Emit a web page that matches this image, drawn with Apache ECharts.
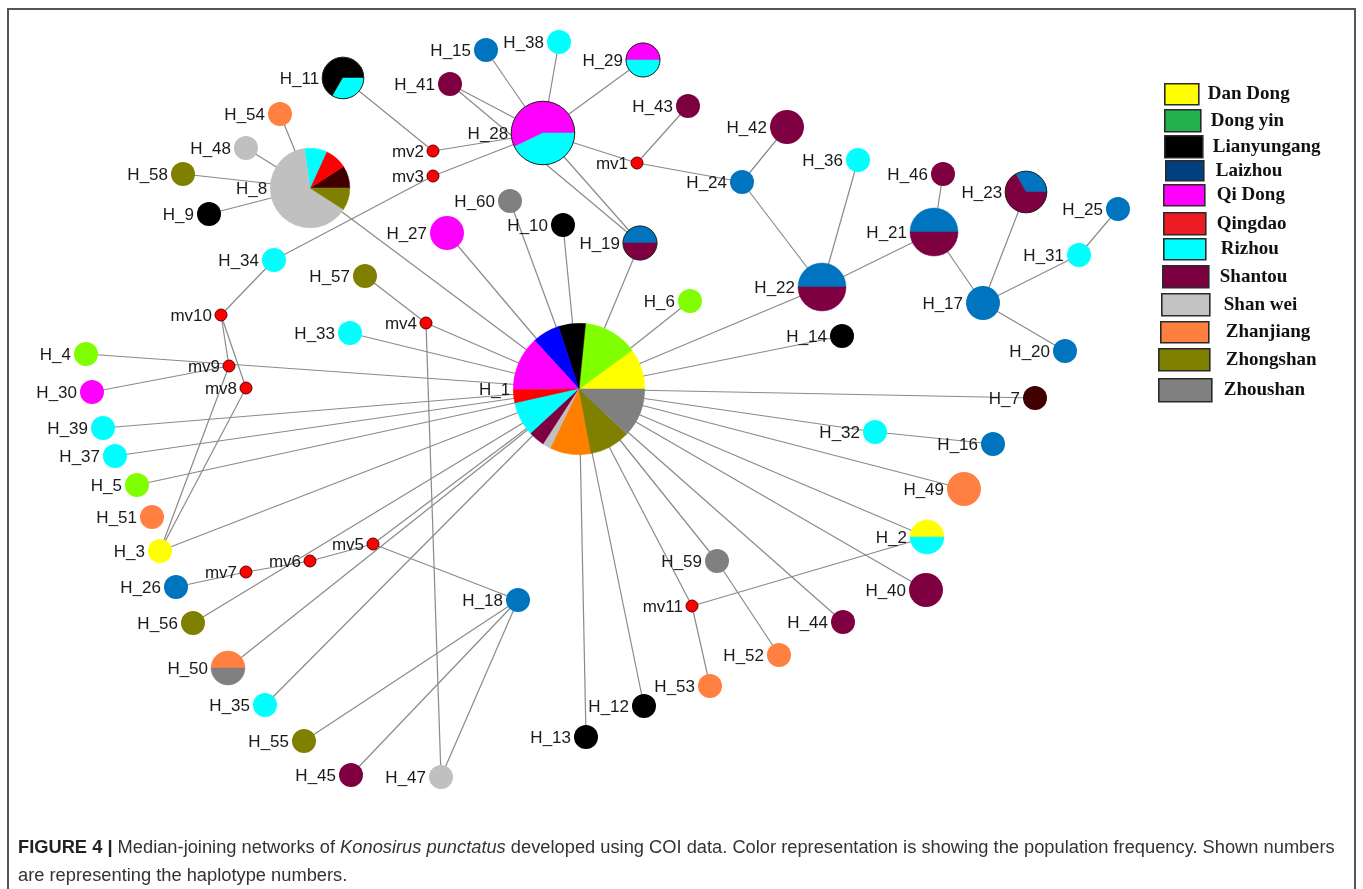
<!DOCTYPE html>
<html>
<head>
<meta charset="utf-8">
<script src="https://cdn.jsdelivr.net/npm/echarts@6/dist/echarts.min.js"></script>
<style>
  html, body { margin: 0; padding: 0; background: #fff; }
  #chart { width: 1363px; height: 889px; }
</style>
</head>
<body>
<div id="chart"></div>
<script>
// Populations (legend order) and their legend swatch colours
const populations = ['Dan Dong', 'Dong yin', 'Lianyungang', 'Laizhou', 'Qi Dong', 'Qingdao',
  'Rizhou', 'Shantou', 'Shan wei', 'Zhanjiang', 'Zhongshan', 'Zhoushan'];
const legendColors = ['#ffff00', '#22b14c', '#000000', '#003f80', '#ff00ff', '#ed1c24',
  '#00ffff', '#7a0040', '#c3c3c3', '#ff7f40', '#7f7f00', '#808080'];

// Colour keys used inside the network circles
const sliceColors = {
  Y: '#ffff00', G: '#80ff00', K: '#000000', L: '#0074be', B: '#0000ff', M: '#ff00ff',
  R: '#ff0000', C: '#00ffff', S: '#7f0040', W: '#c0c0c0', O: '#ff8040', P: '#ff8000',
  V: '#808000', Z: '#808080', D: '#400000'
};

// Haplotypes and median vectors
const nodeNames = ['H_1', 'H_2', 'H_3', 'H_4', 'H_5', 'H_6', 'H_7', 'H_8', 'H_9', 'H_10',
  'H_11', 'H_12', 'H_13', 'H_14', 'H_15', 'H_16', 'H_17', 'H_18', 'H_19', 'H_20',
  'H_21', 'H_22', 'H_23', 'H_24', 'H_25', 'H_26', 'H_27', 'H_28', 'H_29', 'H_30',
  'H_31', 'H_32', 'H_33', 'H_34', 'H_35', 'H_36', 'H_37', 'H_38', 'H_39', 'H_40',
  'H_41', 'H_42', 'H_43', 'H_44', 'H_45', 'H_46', 'H_47', 'H_48', 'H_49', 'H_50',
  'H_51', 'H_52', 'H_53', 'H_54', 'H_55', 'H_56', 'H_57', 'H_58', 'H_59', 'H_60',
  'mv1', 'mv2', 'mv3', 'mv4', 'mv5', 'mv6', 'mv7', 'mv8', 'mv9', 'mv10', 'mv11'];

// Network layout (x, y in layout units)
const nodeX = [579, 927, 160, 86, 137, 690, 1035, 310, 209, 563,
  343, 644, 586, 842, 486, 993, 983, 518, 640, 1065,
  934, 822, 1026, 742, 1118, 176, 447, 543, 643, 92,
  1079, 875, 350, 274, 265, 858, 115, 559, 103, 926,
  450, 787, 688, 843, 351, 943, 441, 246, 964, 228,
  152, 779, 710, 280, 304, 193, 365, 183, 717, 510,
  637, 433, 433, 426, 373, 310, 246, 246, 229, 221, 692];
const nodeY = [389, 537, 551, 354, 485, 301, 398, 188, 214, 225,
  78, 706, 737, 336, 50, 444, 303, 600, 243, 351,
  232, 287, 192, 182, 209, 587, 233, 133, 60, 392,
  255, 432, 333, 260, 705, 160, 456, 42, 428, 590,
  84, 127, 106, 622, 775, 174, 777, 148, 489, 668,
  517, 655, 686, 114, 741, 623, 276, 174, 561, 201,
  163, 151, 176, 323, 544, 561, 572, 388, 366, 315, 606];

// Sample composition of each haplotype: [colour key, individuals]
const nodeComp = [
  [['Y', 3], ['G', 4], ['K', 2], ['B', 2], ['M', 4], ['R', 1], ['C', 2.5], ['S', 1.2], ['W', 0.6], ['P', 3], ['V', 3], ['Z', 3.6]],
  [['Y', 1], ['C', 1]], [['Y', 1]], [['G', 1]], [['G', 1]], [['G', 1]], [['D', 1]],
  [['D', 1], ['R', 1], ['C', 1], ['W', 7], ['V', 1]],
  [['K', 1]], [['K', 1]],
  [['K', 2], ['C', 1]], [['K', 1]], [['K', 1]], [['K', 1]], [['L', 1]], [['L', 1]], [['L', 2]],
  [['L', 1]], [['L', 1], ['S', 1]], [['L', 1]],
  [['L', 2], ['S', 2]], [['L', 2], ['S', 2]], [['L', 1], ['S', 2]], [['L', 1]], [['L', 1]],
  [['L', 1]], [['M', 2]], [['M', 4], ['C', 3]], [['M', 1], ['C', 1]], [['M', 1]],
  [['C', 1]], [['C', 1]], [['C', 1]], [['C', 1]], [['C', 1]], [['C', 1]], [['C', 1]], [['C', 1]], [['C', 1]], [['S', 2]],
  [['S', 1]], [['S', 2]], [['S', 1]], [['S', 1]], [['S', 1]], [['S', 1]], [['W', 1]], [['W', 1]], [['O', 2]], [['O', 1], ['Z', 1]],
  [['O', 1]], [['O', 1]], [['O', 1]], [['O', 1]], [['V', 1]], [['V', 1]], [['V', 1]], [['V', 1]], [['Z', 1]], [['Z', 1]],
  [], [], [], [], [], [], [], [], [], [], []
];
// Circles drawn with a dark outline
const outlined = ['H_11', 'H_19', 'H_23', 'H_28', 'H_29'];

// Mutational links between nodes
const links = [
  ['H_15', 'H_28'], ['H_38', 'H_28'], ['H_29', 'H_28'], ['H_41', 'H_28'], ['H_28', 'mv2'],
  ['H_28', 'mv3'], ['H_28', 'mv1'], ['H_28', 'H_19'], ['H_41', 'H_19'], ['mv1', 'H_43'],
  ['mv1', 'H_24'], ['H_24', 'H_42'], ['H_24', 'H_22'], ['H_22', 'H_36'], ['H_22', 'H_21'],
  ['H_21', 'H_46'], ['H_21', 'H_17'], ['H_17', 'H_23'], ['H_17', 'H_31'], ['H_31', 'H_25'],
  ['H_17', 'H_20'], ['H_11', 'mv2'], ['mv3', 'H_34'], ['H_34', 'mv10'], ['mv10', 'mv9'],
  ['mv10', 'mv8'], ['mv9', 'H_30'], ['mv8', 'H_3'], ['mv9', 'H_3'], ['H_8', 'H_54'],
  ['H_8', 'H_48'], ['H_8', 'H_58'], ['H_8', 'H_9'], ['H_8', 'H_1'], ['H_32', 'H_16'],
  ['mv4', 'H_57'], ['mv4', 'H_47'], ['mv4', 'H_1'], ['H_33', 'H_1'], ['H_26', 'mv7'],
  ['mv7', 'mv6'], ['mv6', 'mv5'], ['mv5', 'H_18'], ['H_18', 'H_55'], ['H_18', 'H_45'],
  ['H_18', 'H_47'], ['H_1', 'H_13'], ['H_2', 'mv11'], ['mv11', 'H_53'], ['H_59', 'H_52'],
  ['H_1', 'H_4'], ['H_1', 'H_39'], ['H_1', 'H_37'], ['H_1', 'H_5'], ['H_1', 'H_3'],
  ['H_1', 'H_56'], ['H_1', 'H_35'], ['H_1', 'H_27'], ['H_1', 'H_60'], ['H_1', 'H_10'],
  ['H_1', 'H_19'], ['H_1', 'H_6'], ['H_1', 'H_22'], ['H_1', 'H_14'], ['H_1', 'H_7'],
  ['H_1', 'H_32'], ['H_1', 'H_49'], ['H_1', 'H_40'], ['H_1', 'H_44'], ['H_1', 'H_59'],
  ['H_1', 'mv11'], ['H_1', 'H_12'], ['H_1', 'H_50'], ['mv5', 'H_1'], ['H_1', 'H_2']
];

const captionLead = 'FIGURE 4 |';
const captionLine1 = 'Median-joining networks of ';
const captionSpecies = 'Konosirus punctatus';
const captionLine1b = ' developed using COI data. Color representation is showing the population frequency. Shown numbers';
const captionLine2 = 'are representing the haplotype numbers.';

// Legend swatch geometry, one entry per population
const legendLeft = [1164, 1164, 1164, 1165, 1163, 1163, 1163, 1162, 1161, 1160, 1158, 1158];
const legendTop = [83, 109, 135, 160, 184, 212, 238, 265, 293, 321, 348, 378];
const legendBoxW = [34, 36, 38, 38, 41, 42, 42, 46, 48, 48, 51, 53];
const legendBoxH = [21, 22, 22, 20, 21, 22, 21, 22, 22, 21, 22, 23];
const legendTextGap = [9, 10, 10, 12, 12, 11, 15, 11, 14, 17, 16, 12];

const W = 1363, H = 889;
const nodeIndex = {};
nodeNames.forEach((n, i) => { nodeIndex[n] = i; });
const freq = nodeComp.map(c => c.reduce((s, d) => s + d[1], 0));
// circle area proportional to frequency; median vectors are small fixed dots
const radiusOf = i => freq[i] > 0 ? 12 * Math.sqrt(Math.max(1, Math.round(freq[i]))) : 6;

const chart = echarts.init(document.getElementById('chart'), null, { renderer: 'canvas' });

const linkData = links.map(l => {
  const a = nodeIndex[l[0]], b = nodeIndex[l[1]];
  return [nodeX[a], nodeY[a], nodeX[b], nodeY[b]];
});
const nodeData = nodeNames.map((n, i) => [nodeX[i], nodeY[i], i]);

const legendSeries = populations.map((p, i) => ({
  type: 'custom', name: p, data: [], renderItem: () => null,
  itemStyle: { color: legendColors[i] }
}));
const legends = populations.map((p, i) => ({
  orient: 'vertical', left: legendLeft[i], top: legendTop[i], icon: 'rect', padding: 0,
  itemWidth: legendBoxW[i], itemHeight: legendBoxH[i], selectedMode: false,
  data: [p],
  itemStyle: { borderColor: '#2a2a2a', borderWidth: 1.6 },
  textStyle: { fontFamily: '"Liberation Serif", "DejaVu Serif", serif', fontWeight: 'bold', fontSize: 19,
    color: '#111', padding: [0, 0, 0, legendTextGap[i] - 5] }
}));

const option = {
  backgroundColor: '#fff',
  animation: false,
  grid: { left: 0, right: 0, top: 0, bottom: 0 },
  xAxis: { type: 'value', min: 0, max: W, show: false },
  yAxis: { type: 'value', min: 0, max: H, inverse: true, show: false },
  legend: legends,
  graphic: [
    { type: 'rect', shape: { x: 8, y: 9, width: 1347, height: 900 }, style: { fill: 'none', stroke: '#555', lineWidth: 2 }, silent: true },
    {
      type: 'text', left: 18, top: 834,
      style: {
        text: '{b|' + captionLead + '} ' + captionLine1 + '{i|' + captionSpecies + '}' + captionLine1b + '\n' + captionLine2,
        font: '18.3px "Liberation Sans", Arial, sans-serif', fill: '#333', lineHeight: 28,
        rich: {
          b: { font: 'bold 18.3px "Liberation Sans", Arial, sans-serif', fill: '#222' },
          i: { font: 'italic 18.3px "Liberation Sans", Arial, sans-serif', fill: '#333' }
        }
      }
    }
  ],
  series: [
    {
      type: 'custom', name: 'links', silent: true, z: 1,
      data: linkData,
      renderItem: (params, api) => {
        const p1 = api.coord([api.value(0), api.value(1)]);
        const p2 = api.coord([api.value(2), api.value(3)]);
        return { type: 'line', shape: { x1: p1[0], y1: p1[1], x2: p2[0], y2: p2[1] },
          style: { stroke: '#8a8a8a', lineWidth: 1.2 } };
      }
    },
    {
      type: 'custom', name: 'nodes', silent: true, z: 2,
      data: nodeData,
      renderItem: (params, api) => {
        const i = api.value(2);
        const c = api.coord([api.value(0), api.value(1)]);
        const r = api.size([radiusOf(i), 0])[0];
        const comp = nodeComp[i];
        const children = [];
        if (comp.length === 0) {
          children.push({ type: 'circle', shape: { cx: c[0], cy: c[1], r: r },
            style: { fill: '#ff0000', stroke: '#5a0000', lineWidth: 1 } });
        } else if (comp.length === 1) {
          children.push({ type: 'circle', shape: { cx: c[0], cy: c[1], r: r },
            style: { fill: sliceColors[comp[0][0]] } });
        } else {
          const total = freq[i];
          let cum = 0;
          comp.forEach(d => {
            const a = d[1] / total * Math.PI * 2;
            children.push({ type: 'sector',
              shape: { cx: c[0], cy: c[1], r0: 0, r: r, startAngle: -(cum + a), endAngle: -cum, clockwise: true },
              style: { fill: sliceColors[d[0]], stroke: sliceColors[d[0]], lineWidth: 0.5 } });
            cum += a;
          });
        }
        if (outlined.indexOf(nodeNames[i]) >= 0) {
          children.push({ type: 'circle', shape: { cx: c[0], cy: c[1], r: r },
            style: { fill: 'none', stroke: '#222', lineWidth: 1 } });
        }
        children.push({ type: 'text',
          style: { text: nodeNames[i], x: c[0] - r - 3, y: c[1] + 1, align: 'right', verticalAlign: 'middle',
            font: '17px "Liberation Sans", Arial, sans-serif', fill: '#1a1a1a' } });
        return { type: 'group', children: children };
      }
    }
  ].concat(legendSeries)
};
chart.setOption(option);
</script>
</body>
</html>
